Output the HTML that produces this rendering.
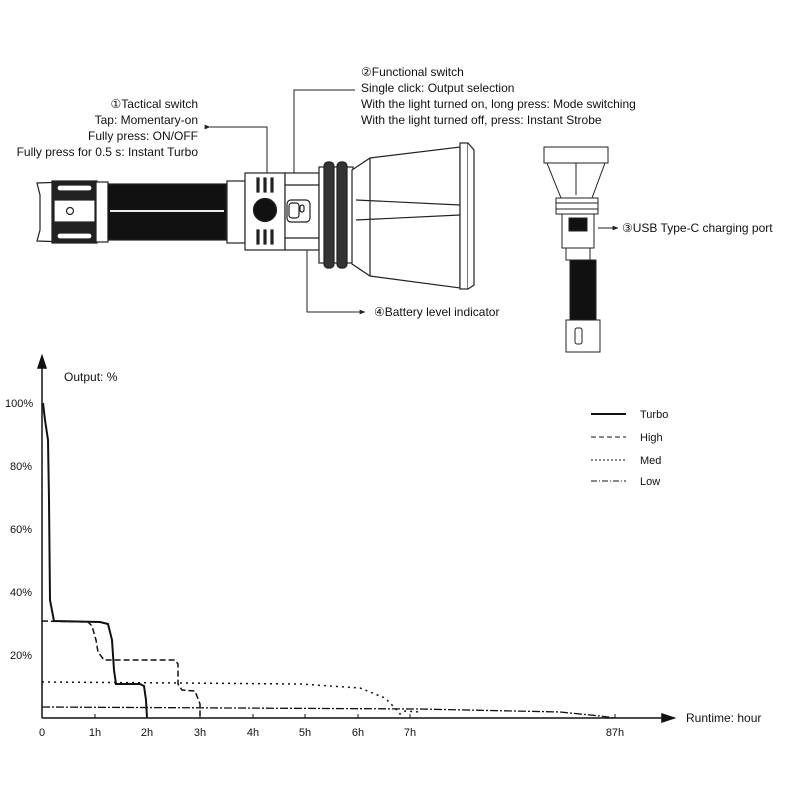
<!DOCTYPE html>
<html><head><style>
body{margin:0;background:#fff;}
svg{display:block;font-family:"Liberation Sans",sans-serif;}
</style></head><body>
<svg width="800" height="800" viewBox="0 0 800 800" xmlns="http://www.w3.org/2000/svg">
<defs>
<marker id="ar" viewBox="0 0 10 10" refX="9" refY="5" markerWidth="6" markerHeight="6" orient="auto"><path d="M0,1 L10,5 L0,9 z" fill="#222"/></marker>
</defs>
<g font-size="12" fill="#111">
<text x="198" y="108" text-anchor="end">①Tactical switch</text>
<text x="198" y="124" text-anchor="end">Tap: Momentary-on</text>
<text x="198" y="140" text-anchor="end">Fully press: ON/OFF</text>
<text x="198" y="156" text-anchor="end">Fully press for 0.5 s: Instant Turbo</text>
<text x="361" y="76">②Functional switch</text>
<text x="361" y="92">Single click: Output selection</text>
<text x="361" y="108">With the light turned on, long press: Mode switching</text>
<text x="361" y="124">With the light turned off, press: Instant Strobe</text>
<text x="622" y="232">③USB Type-C charging port</text>
<text x="374" y="316">④Battery level indicator</text>
</g>
<g stroke="#222" stroke-width="1" fill="none">
<polyline points="210,127 267,127 267,195" marker-start="url(#ar)"/>
<polyline points="355,90 294,90 294,200"/>
<polyline points="307,218 307,312 365,312" marker-end="url(#ar)"/>
<line x1="598" y1="228" x2="618" y2="228" marker-end="url(#ar)"/>
</g>
<!-- big flashlight -->
<g stroke="#222" stroke-width="1.2" fill="#fff">
<path d="M37,183 L95,181 L95,243 L37,241 L40,230 L40,195 Z"/>
<rect x="52" y="181" width="45" height="62" fill="#222"/>
<rect x="57" y="185" width="35" height="6" rx="3" fill="#fff"/>
<rect x="57" y="233" width="35" height="6" rx="3" fill="#fff"/>
<rect x="54" y="200" width="41" height="22" fill="#fff"/>
<circle cx="70" cy="211" r="3.5"/>
<rect x="96" y="182" width="12" height="60"/>
<rect x="108" y="184" width="118" height="56" fill="#111"/>
<line x1="110" y1="211" x2="224" y2="211" stroke="#eee" stroke-width="2"/>
<rect x="227" y="181" width="18" height="62"/>
<rect x="245" y="173" width="40" height="77"/>
<g fill="#222"><rect x="257" y="178" width="2" height="14"/><rect x="264" y="178" width="2" height="14"/><rect x="271" y="178" width="2" height="14"/><rect x="257" y="230" width="2" height="14"/><rect x="264" y="230" width="2" height="14"/><rect x="271" y="230" width="2" height="14"/></g>
<circle cx="265" cy="210" r="11.5" fill="#111"/>
<rect x="285" y="173" width="34" height="77"/>
<line x1="285" y1="185" x2="319" y2="185"/><line x1="285" y1="238" x2="319" y2="238"/>
<rect x="287" y="200" width="23" height="22" rx="4"/>
<rect x="289" y="203" width="10" height="15" rx="3"/>
<rect x="300" y="205" width="4" height="7" rx="2"/>
<rect x="319" y="167" width="34" height="96"/>
<rect x="324" y="162" width="10" height="106" rx="4" fill="#333"/>
<rect x="337" y="162" width="10" height="106" rx="4" fill="#333"/>
<path d="M352,170 L370,158 L460,147 L460,288 L370,276 L352,264 Z"/>
<path d="M356,200 L460,205 M356,220 L460,215 M370,158 L370,276" />
<rect x="460" y="143" width="8" height="146"/>
<path d="M468,143 L474,150 L474,285 L468,289"/>
</g>
<!-- small flashlight -->
<g stroke="#222" stroke-width="1" fill="#fff">
<rect x="544" y="147" width="64" height="16"/>
<path d="M547,163 L605,163 L592,198 L561,198 Z"/>
<line x1="576" y1="163" x2="576" y2="195"/>
<rect x="556" y="198" width="42" height="16"/>
<line x1="556" y1="203" x2="598" y2="203"/><line x1="556" y1="209" x2="598" y2="209"/>
<rect x="562" y="214" width="32" height="34"/>
<rect x="569" y="218" width="18" height="13" fill="#111"/>
<rect x="566" y="248" width="24" height="12"/>
<rect x="570" y="260" width="26" height="60" fill="#111"/>
<rect x="566" y="320" width="34" height="32"/>
<rect x="575" y="328" width="7" height="16" rx="2"/>
</g>
<!-- chart -->
<g stroke="#111" stroke-width="1.5" fill="none">
<line x1="42" y1="718" x2="42" y2="362"/>
<path d="M42,356 L38,368 L46,368 Z" fill="#111"/>
<line x1="42" y1="718" x2="668" y2="718"/>
<path d="M674,718 L662,714 L662,722 Z" fill="#111"/>
<g stroke-width="1"><line x1="95" y1="718" x2="95" y2="714"/><line x1="147" y1="718" x2="147" y2="714"/><line x1="200" y1="718" x2="200" y2="714"/><line x1="253" y1="718" x2="253" y2="714"/><line x1="305" y1="718" x2="305" y2="714"/><line x1="358" y1="718" x2="358" y2="714"/><line x1="410" y1="718" x2="410" y2="714"/><line x1="615" y1="718" x2="615" y2="714"/></g>
<!-- turbo -->
<path d="M43,403 L45,420 L48,440 L49,500 L50,600 L54,621 L100,622 L108,624 L112,640 L114,670 L116,684 L140,684 L144,686 L146,700 L147,718" stroke-width="2"/>
<!-- high -->
<path d="M42,621 L88,622 L92,626 L96,640 L98,652 L104,660 L175,660 L178,664 L178,684 L182,690 L195,691 L200,704 L200,718" stroke-dasharray="6,3"/>
<!-- med -->
<path d="M42,682 L180,683 L300,684 L360,688 L385,698 L395,708 L400,714 L405,711 L420,712" stroke-dasharray="2,4" stroke-width="1.5"/>
<!-- low -->
<path d="M42,707 L420,709 L560,712 L600,716 L615,718" stroke-dasharray="8,2,2,2" stroke-width="1.3"/>
<!-- legend -->
<line x1="591" y1="414" x2="626" y2="414" stroke-width="2"/>
<line x1="591" y1="437" x2="626" y2="437" stroke-dasharray="5,3" stroke-width="1"/>
<line x1="591" y1="460" x2="626" y2="460" stroke-dasharray="2,2" stroke-width="1"/>
<line x1="591" y1="481" x2="626" y2="481" stroke-dasharray="6,2,1,2" stroke-width="1"/>
</g>
<g font-size="11" fill="#111">
<text x="64" y="381" font-size="12">Output: %</text>
<text x="5" y="407">100%</text>
<text x="10" y="470">80%</text>
<text x="10" y="533">60%</text>
<text x="10" y="596">40%</text>
<text x="10" y="659">20%</text>
<text x="42" y="736" text-anchor="middle">0</text>
<text x="95" y="736" text-anchor="middle">1h</text>
<text x="147" y="736" text-anchor="middle">2h</text>
<text x="200" y="736" text-anchor="middle">3h</text>
<text x="253" y="736" text-anchor="middle">4h</text>
<text x="305" y="736" text-anchor="middle">5h</text>
<text x="358" y="736" text-anchor="middle">6h</text>
<text x="410" y="736" text-anchor="middle">7h</text>
<text x="615" y="736" text-anchor="middle">87h</text>
<text x="686" y="722" font-size="12">Runtime: hour</text>
<text x="640" y="418">Turbo</text>
<text x="640" y="441">High</text>
<text x="640" y="464">Med</text>
<text x="640" y="485">Low</text>
</g>
</svg>
</body></html>
